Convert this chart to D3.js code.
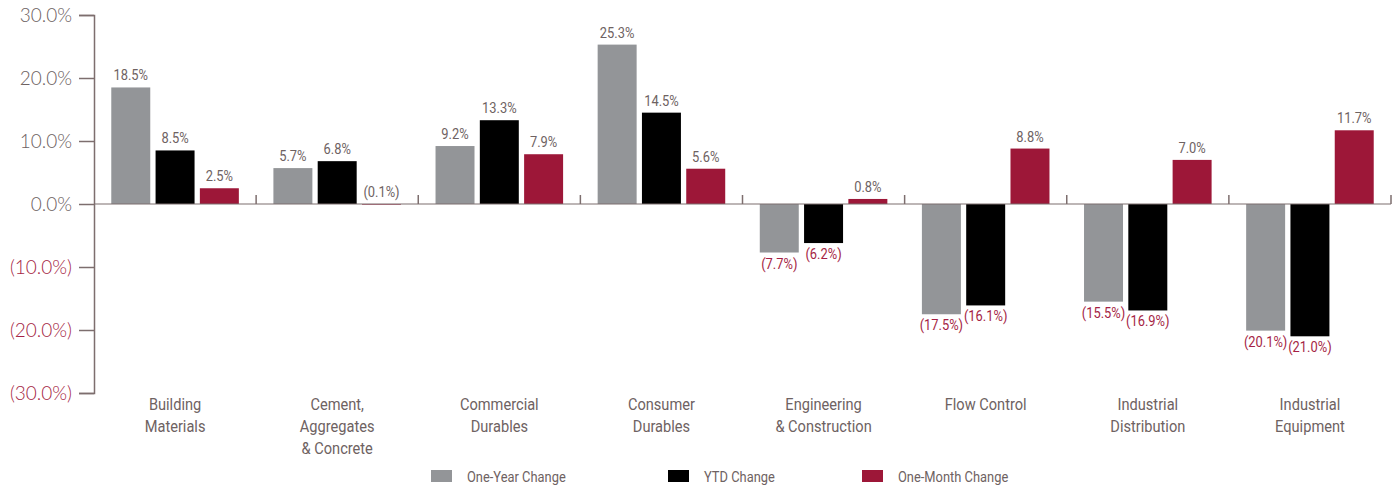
<!DOCTYPE html>
<html>
<head>
<meta charset="utf-8">
<script src="https://cdn.jsdelivr.net/npm/d3@7"></script>
<style>
  body { margin: 0; background: #fff; }
  svg { display: block; }
  .cond { font-family: Roboto, "Liberation Sans", sans-serif; }
</style>
</head>
<body>
<svg width="1400" height="486"></svg>
<script>
// categories (label lines)
var categories = [
  ['Building', 'Materials'],
  ['Cement,', 'Aggregates', '& Concrete'],
  ['Commercial', 'Durables'],
  ['Consumer', 'Durables'],
  ['Engineering', '& Construction'],
  ['Flow Control'],
  ['Industrial', 'Distribution'],
  ['Industrial', 'Equipment']
];

var seriesNames = ['One-Year Change', 'YTD Change', 'One-Month Change'];

var oneYear  = [18.5, 5.7, 9.2, 25.3, -7.7, -17.5, -15.5, -20.1];
var ytd      = [8.5, 6.8, 13.3, 14.5, -6.2, -16.1, -16.9, -21.0];
var oneMonth = [2.5, -0.1, 7.9, 5.6, 0.8, 8.8, 7.0, 11.7];

var yTicks = [30, 20, 10, 0, -10, -20, -30];

var series = [oneYear, ytd, oneMonth];
var colors = ['#939598', '#000000', '#9d1738'];
var textGray = '#6e6262';
var textRed = '#a51f45';
var axisColor = '#7d6e6e';

var svg = d3.select('svg');

// no condensed face installed, so squeeze text horizontally
function squeeze(px, py, k) {
  return 'translate(' + px + ',' + py + ') scale(' + k + ',1)';
}

// scales
var x = d3.scaleBand()
  .domain(d3.range(categories.length))
  .range([94, 1391]);

var xs = d3.scaleBand()
  .domain(d3.range(series.length))
  .range([0, x.bandwidth()])
  .paddingInner(0.12)
  .paddingOuter(0.39);

var y = d3.scaleLinear().domain([-30, 30]).range([393, 15]);

function fmt(v) {
  var s = Math.abs(v).toFixed(1) + '%';
  return v < 0 ? '(' + s + ')' : s;
}

// y axis
var yAxis = d3.axisLeft(y)
  .tickValues(yTicks)
  .tickSize(15)
  .tickPadding(7)
  .tickFormat(fmt);

var gy = svg.append('g')
  .attr('transform', 'translate(94,0)')
  .call(yAxis);
gy.select('.domain').attr('stroke', axisColor).attr('stroke-width', 1.5);
gy.selectAll('.tick line').attr('stroke', axisColor).attr('stroke-width', 1.5);
gy.selectAll('.tick text')
  .attr('font-family', 'Lato, "Open Sans", sans-serif')
  .attr('font-weight', 300)
  .attr('font-size', 19)
  .attr('fill', function(d) { return d < 0 ? textRed : textGray; });

// bars
var groups = svg.append('g').selectAll('g')
  .data(categories)
  .join('g')
  .attr('transform', function(d, i) { return 'translate(' + x(i) + ',0)'; });

series.forEach(function(vals, s) {
  groups.append('rect')
    .attr('x', xs(s))
    .attr('width', xs.bandwidth())
    .attr('y', function(d, i) { return y(Math.max(0, vals[i])); })
    .attr('height', function(d, i) { return Math.abs(y(vals[i]) - y(0)); })
    .attr('fill', colors[s]);

  groups.append('text')
    .attr('class', 'cond')
    .attr('transform', function(d, i) {
      var v = vals[i];
      var ty = v > -1 ? y(Math.max(0, v)) - 7 : y(v) + 16;
      return squeeze(xs(s) + xs.bandwidth() / 2, ty, 0.86);
    })
    .attr('text-anchor', 'middle')
    .attr('font-size', 15)
    .attr('fill', function(d, i) { return vals[i] > -1 ? textGray : textRed; })
    .text(function(d, i) { return fmt(vals[i]); });
});

// zero line with separators
var gx = svg.append('g');
gx.append('line')
  .attr('x1', 94).attr('x2', 1391)
  .attr('y1', y(0)).attr('y2', y(0))
  .attr('stroke', axisColor).attr('stroke-width', 1.2);
gx.selectAll('line.sep')
  .data(d3.range(1, categories.length + 1))
  .join('line')
  .attr('class', 'sep')
  .attr('x1', function(i) { return x.step() * i + 94; })
  .attr('x2', function(i) { return x.step() * i + 94; })
  .attr('y1', y(0)).attr('y2', y(0) - 9)
  .attr('stroke', axisColor).attr('stroke-width', 1.5);

// category labels
var labels = svg.append('g').selectAll('text')
  .data(categories)
  .join('text')
  .attr('class', 'cond')
  .attr('text-anchor', 'middle')
  .attr('font-size', 17)
  .attr('fill', textGray)
  .attr('transform', function(d, i) { return squeeze(x(i) + x.bandwidth() / 2, 410, 0.86); });
labels.selectAll('tspan')
  .data(function(d) { return d; })
  .join('tspan')
  .attr('x', 0)
  .attr('dy', function(d, j) { return j === 0 ? 0 : 22; })
  .text(function(d) { return d; });

// legend
var legendX = [431, 668, 862];
var legend = svg.append('g').selectAll('g')
  .data(seriesNames)
  .join('g')
  .attr('transform', function(d, i) { return 'translate(' + legendX[i] + ',470)'; });
legend.append('rect')
  .attr('width', 21).attr('height', 12)
  .attr('fill', function(d, i) { return colors[i]; });
legend.append('text')
  .attr('class', 'cond')
  .attr('transform', squeeze(36, 12, 0.86))
  .attr('font-size', 15)
  .attr('fill', textGray)
  .text(function(d) { return d; });
</script>
</body>
</html>
